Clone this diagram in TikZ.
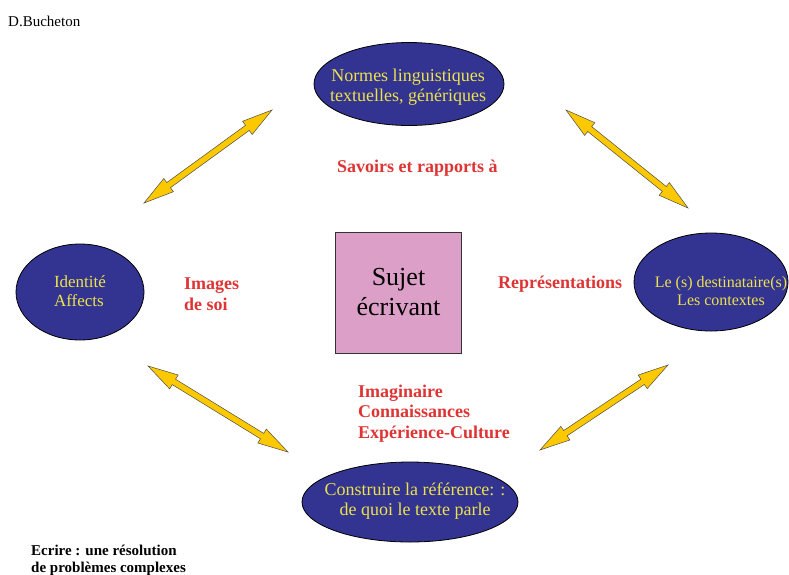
\documentclass[tikz,border=0pt]{standalone}
\usepackage{fontspec}
\setmainfont{Liberation Serif}
\usetikzlibrary{shapes.geometric,shapes.arrows,calc}

\definecolor{blobblue}{RGB}{51,51,145}
\definecolor{blobyellow}{RGB}{236,226,74}
\definecolor{labelred}{RGB}{222,52,52}
\definecolor{arrowgold}{RGB}{252,200,0}
\definecolor{boxpink}{RGB}{220,160,200}

\tikzset{
  blob/.style={ellipse, draw=black, line width=0.8pt, fill=blobblue, inner sep=0pt},
  blobtext/.style={text=blobyellow, align=center, inner sep=0pt, font=\fontsize{18}{20}\selectfont},
  redlabel/.style={text=labelred, align=left, inner sep=0pt, anchor=base west, font=\bfseries\fontsize{18}{20.5}\selectfont},
  twoway/.style={double arrow, draw=black!70, line width=0.5pt, fill=arrowgold, inner sep=2.9pt,
    double arrow head extend=5pt, double arrow tip angle=30, minimum height={#1}},
}

\begin{document}
\begin{tikzpicture}[x=1pt,y=-1pt]
	\useasboundingbox (0,0) rectangle (789,574);

	% the four poles
	\node[blob, minimum width=190pt, minimum height=83pt] (normes) at (409,84) {};
	\node[blob, minimum width=128pt, minimum height=96pt] (identite) at (80,292) {};
	\node[blob, minimum width=154pt, minimum height=98pt] (dest) at (711,282) {};
	\node[blob, minimum width=216pt, minimum height=80pt] (reference) at (410,502) {};

	\node[blobtext] (normestxt) at ($(normes)+(-1,3)$) {Normes linguistiques\\ textuelles, génériques};
	\node[blobtext, align=left, font=\fontsize{17}{19}\selectfont] (identitetxt) at ($(identite)+(0,-1)$) {Identité\\Affects};
	\node[blobtext, font=\fontsize{16}{18}\selectfont] (desttxt) at ($(dest)+(10,9)$) {Le (s) destinataire(s)\\Les contextes};
	\node[blobtext] (referencetxt) at ($(reference)+(5,-1)$) {Construire la référence: :\\de quoi le texte parle};

	% centre
	\node[draw=black!80, line width=0.6pt, fill=boxpink, minimum width=126pt, minimum height=121pt, inner sep=0pt,
	  align=center, font=\fontsize{26}{30}\selectfont] (sujet) at (398.5,292.5) {Sujet\\écrivant};

	% red labels (base = last line)
	\node[redlabel] (savoirs) at (337,172) {Savoirs et rapports à};
	\node[redlabel] (images) at (184,310) {Images\\de soi};
	\node[redlabel] (repres) at (498,288) {Représentations};
	\node[redlabel] (imaginaire) at (358,438) {Imaginaire\\Connaissances\\Expérience-Culture};

	% corner texts
	\node[anchor=base west, inner sep=0pt, font=\fontsize{15}{17}\selectfont] (auteur) at (8,26) {D.Bucheton};
	\node[anchor=base west, inner sep=0pt, align=left, font=\bfseries\fontsize{15}{17}\selectfont] (titre) at (31,572)
	  {Ecrire : une résolution\\de problèmes complexes};

	% double arrows
	\coordinate (a1) at (144,203);
	\coordinate (b1) at (272,110);
	\coordinate (a2) at (566,110);
	\coordinate (b2) at (688,208);
	\coordinate (a3) at (148,366);
	\coordinate (b3) at (288,452);
	\coordinate (a4) at (540,450);
	\coordinate (b4) at (668,365);
	\foreach \i in {1,...,4}
	  \path let \p1=($(b\i)-(a\i)$), \n1={veclen(\x1,\y1)}, \n2={atan2(\y1,\x1)} in
	    node[twoway=\n1, rotate=\n2] (arrow\i) at ($(a\i)!0.5!(b\i)$) {};
\end{tikzpicture}
\end{document}
